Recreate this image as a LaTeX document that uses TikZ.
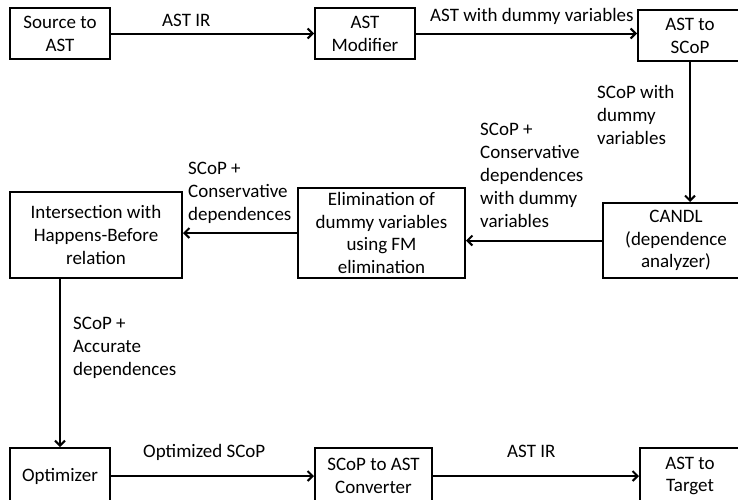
\documentclass[tikz,border=0pt]{standalone}
\usepackage{fontspec}
\setmainfont{Carlito}
\usepackage{tikz}
\usetikzlibrary{arrows.meta,positioning,calc}

\begin{document}
\begin{tikzpicture}[
                x=1pt, y=-1pt,
                font=\fontsize{19}{22.8}\selectfont,
                >={Straight Barb[length=5pt,width=10pt]},
                block/.style={draw, line width=2pt, minimum height=51pt, minimum width=100pt, align=center, inner sep=2pt},
                lbl/.style={anchor=base west, align=left, inner sep=0pt},
                line/.style={->, line width=2pt},
            ]
            \clip (0,0) rectangle (738,499);

            % ----- Top row -----
            \node[block] (src) at (60,33.5) {Source to\\AST};
            \node[block] (mod) at (365,33.5) {AST\\Modifier};
            \node[block, minimum width=104pt] (toscop) at (690,35.5) {AST to\\SCoP};

            % ----- Middle row -----
            \node[block, minimum width=146pt, minimum height=75pt] (candl) at (676,240.5) {CANDL\\(dependence\\analyzer)};
            \node[block, minimum width=167pt, minimum height=90pt] (elim) at (381.5,233) {Elimination of\\dummy variables\\using FM\\elimination};
            \node[block, minimum width=172pt, minimum height=86pt] (inter) at (96,235) {Intersection with\\Happens-Before\\relation};

            % ----- Bottom row -----
            \node[block, minimum height=56pt] (opt) at (60,476) {Optimizer};
            \node[block, minimum width=117pt, minimum height=56pt] (conv) at (373.5,476) {SCoP to AST\\Converter};
            \node[block, minimum height=56pt] (target) at (690,476) {AST to\\Target};

            % labels (base = last line)
            \node[lbl] (irtop) at (162,26) {AST IR};
            \node[lbl] (dummyast) at (430,21) {AST with dummy variables};
            \node[lbl] (dummyscop) at (597,144) {SCoP with\\dummy\\variables};
            \node[lbl] (consdummy) at (480,227) {SCoP +\\Conservative\\dependences\\with dummy\\variables};
            \node[lbl] (cons) at (188,220) {SCoP +\\Conservative\\dependences};
            \node[lbl] (acc) at (73,375) {SCoP +\\Accurate\\dependences};
            \node[lbl] (optscop) at (143,457) {Optimized SCoP};
            \node[lbl] (irbot) at (507,457) {AST IR};

            % wiring
            \draw[line] (src.east) -- (mod.west);
            \draw[line] (mod.east) -- (mod.east -| toscop.west);
            \draw[line] (toscop.south) -- (toscop.south |- candl.north);
            \draw[line] (candl.west) -- (candl.west -| elim.east);
            \draw[line] (elim.west) -- (elim.west -| inter.east);
            \draw[line] (opt.north |- inter.south) -- (opt.north);
            \draw[line] (opt.east) -- (conv.west);
            \draw[line] (conv.east) -- (target.west);
\end{tikzpicture}
\end{document}
